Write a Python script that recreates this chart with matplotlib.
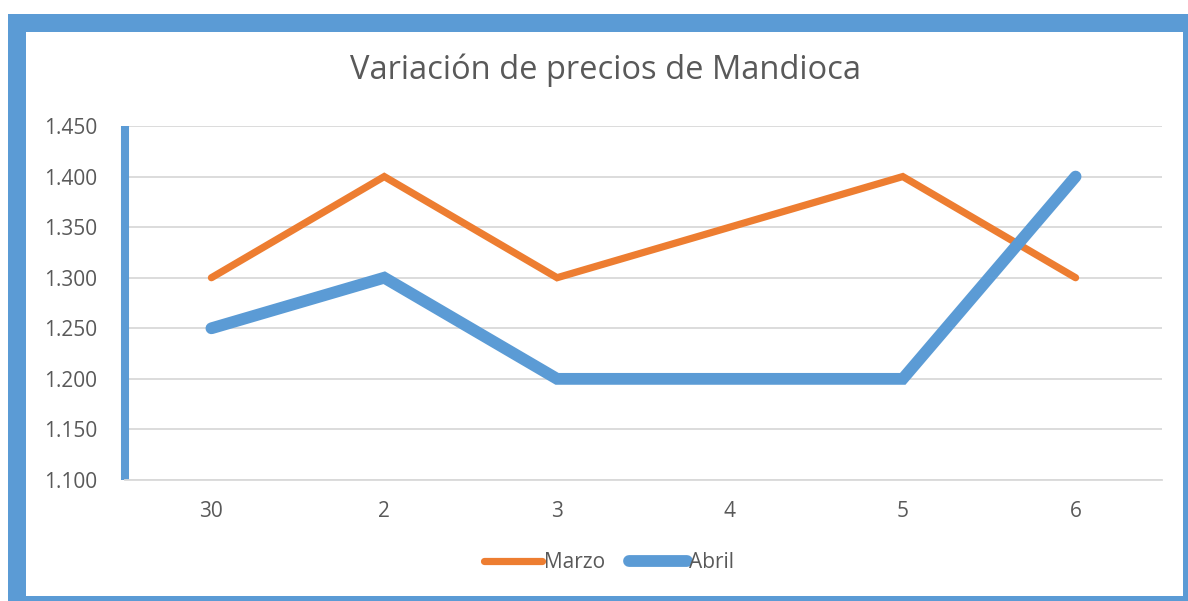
import matplotlib.pyplot as plt
from matplotlib.patches import Rectangle

# datos del grafico
dias = ["30", "2", "3", "4", "5", "6"]
marzo = [1.300, 1.400, 1.300, 1.350, 1.400, 1.300]
abril = [1.250, 1.300, 1.200, 1.200, 1.200, 1.400]
ticks_y = [1.100, 1.150, 1.200, 1.250, 1.300, 1.350, 1.400, 1.450]

naranja = "#ED7D31"
azul = "#5B9BD5"
gris = "#595959"

plt.rcParams["font.family"] = ["Open Sans", "DejaVu Sans"]

fig = plt.figure(figsize=(11.88, 6.01), dpi=100)
W, H = 1188, 601

# marco azul alrededor del grafico
fig.patches.append(Rectangle((8 / W, 0), 1 - 8 / W, 1 - 14 / H, transform=fig.transFigure,
                             facecolor=azul, edgecolor="none", zorder=-2))
fig.patches.append(Rectangle((26 / W, 5 / H), (1183 - 26) / W, (596 - 32) / H, transform=fig.transFigure,
                             facecolor="white", edgecolor="none", zorder=-1))

ax = fig.add_axes([125 / W, 1 - 480 / H, (1162 - 125) / W, (480 - 126) / H])
ax.set_facecolor("none")

x = range(len(dias))
ax.plot(x, marzo, color=naranja, lw=5.2, solid_capstyle="round", solid_joinstyle="miter", label="Marzo", zorder=3)
ax.plot(x, abril, color=azul, lw=8.5, solid_capstyle="round", solid_joinstyle="miter", label="Abril", zorder=3)

ax.set_xlim(-0.5, len(dias) - 0.5)
ax.set_ylim(1.1, 1.45)
ax.set_yticks(ticks_y)
ax.set_yticklabels([f"{v:.3f}" for v in ticks_y])
ax.set_xticks(list(x))
ax.set_xticklabels(dias)
ax.tick_params(length=0, labelsize=15, labelcolor=gris)
ax.tick_params(axis="y", pad=20)
ax.tick_params(axis="x", pad=15)

ax.grid(axis="y", color="#D9D9D9", lw=1.3, zorder=0)
for s in ["top", "right"]:
    ax.spines[s].set_visible(False)
ax.spines["bottom"].set_color("#D9D9D9")
ax.spines["bottom"].set_linewidth(1.3)
ax.spines["left"].set_color(azul)
ax.spines["left"].set_linewidth(5.8)
ax.spines["left"].set_capstyle("butt")

fig.text(605 / W, 1 - 70 / H, "Variación de precios de Mandioca", ha="center", va="center",
         fontsize=23.5, color=gris)

ax.legend(loc="center", bbox_to_anchor=(609 / W, 1 - 563 / H), bbox_transform=fig.transFigure,
          ncol=2, frameon=False, fontsize=15, labelcolor=gris, handlelength=2.8,
          handletextpad=0.1, columnspacing=1.1)

fig.savefig("out.png", dpi=100)
